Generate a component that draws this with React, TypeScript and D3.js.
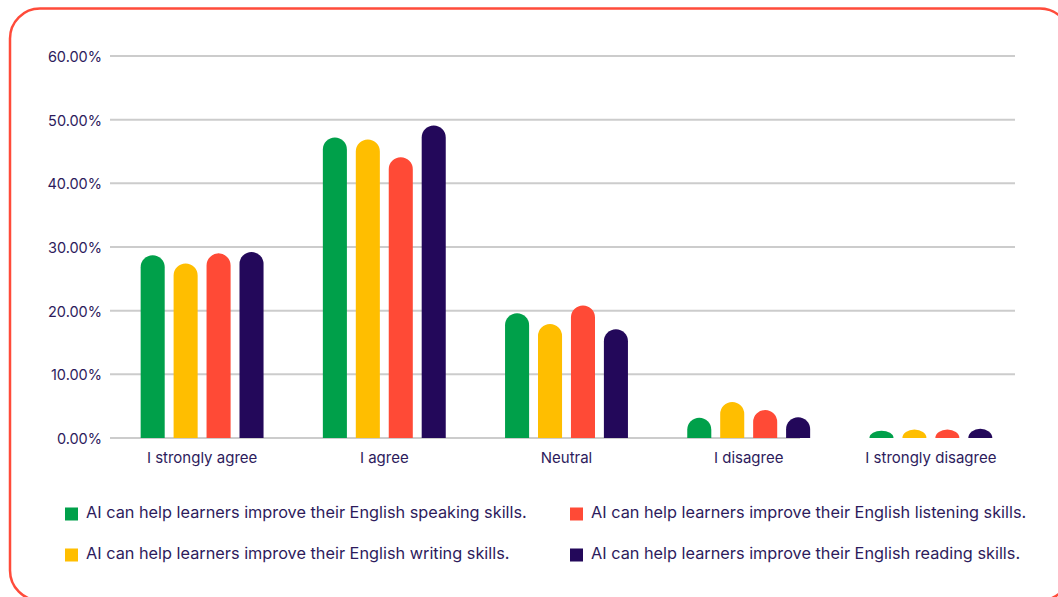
import * as d3 from "d3";

const categories = ["I strongly agree", "I agree", "Neutral", "I disagree", "I strongly disagree"];
const seriesNames = [
  "AI can help learners improve their English speaking skills.",
  "AI can help learners improve their English writing skills.",
  "AI can help learners improve their English listening skills.",
  "AI can help learners improve their English reading skills.",
];
const speaking = [28.7, 47.2, 19.6, 3.2, 1.15];
const writing = [27.4, 46.9, 17.9, 5.65, 1.35];
const listening = [29.0, 44.1, 20.8, 4.4, 1.35];
const reading = [29.2, 49.1, 17.1, 3.25, 1.45];
const yTicks = [0, 10, 20, 30, 40, 50, 60];

const colors = ["#00A04A", "#FFBE00", "#FF4A36", "#23085A"];
const textColor = "#2d1b5c";

const W = 1058;
const H = 597;
const margin = { top: 56, left: 111, right: 36, bottom: 159 };

const roundedBar = (x: number, y: number, w: number, h: number) => {
  const r = w / 2;
  const ry = Math.min(r, h);
  const base = y + h;
  return `M${x},${base} L${x},${y + ry} A${r},${ry} 0 0 1 ${x + w},${y + ry} L${x + w},${base} Z`;
};

export default function App() {
  const series = [speaking, writing, listening, reading];
  const x0 = d3
    .scaleBand<string>()
    .domain(categories)
    .range([margin.left, W - margin.right]);
  const x1 = d3
    .scaleBand<number>()
    .domain(d3.range(series.length))
    .range([0, x0.bandwidth()])
    .paddingInner(0.27)
    .paddingOuter(0.9);
  const y = d3
    .scaleLinear()
    .domain([0, 60])
    .range([438, margin.top]);

  const legendPos = [
    { x: 65, y: 514 },
    { x: 65, y: 555 },
    { x: 570, y: 514 },
    { x: 570, y: 555 },
  ];

  return (
    <svg width={W} height={H} style={{ position: "absolute", left: 0, top: 0 }}>
      <rect x={0} y={0} width={W} height={H} fill="#ffffff" />
      <rect
        x={10}
        y={8.5}
        width={1060}
        height={592}
        rx={30}
        ry={30}
        fill="none"
        stroke="#FF4B3A"
        strokeWidth={2.5}
      />
      <g fontFamily="Inter, 'Noto Sans', sans-serif" fill={textColor}>
        {yTicks.map((t) => (
          <g key={t}>
            {t > 0 && (
              <line x1={110} x2={1015} y1={y(t)} y2={y(t)} stroke="#cccccc" strokeWidth={2} />
            )}
            <text x={102} y={y(t) + 1} dy="0.35em" textAnchor="end" fontSize={14.5}>
              {t.toFixed(2) + "%"}
            </text>
          </g>
        ))}
        <line x1={110} x2={800} y1={y(0)} y2={y(0)} stroke="#cccccc" strokeWidth={2} />
        {categories.map((c, ci) => (
          <g key={c} transform={`translate(${x0(c)},0)`}>
            {series.map((s, si) => {
              const bx = x1(si)!;
              const by = y(s[ci]);
              return (
                <path
                  key={si}
                  d={roundedBar(bx, by, x1.bandwidth(), y(0) - by)}
                  fill={colors[si]}
                />
              );
            })}
            <text
              x={x0.bandwidth() / 2}
              y={463}
              textAnchor="middle"
              fontSize={15}
            >
              {c}
            </text>
          </g>
        ))}
        {seriesNames.map((n, i) => (
          <g key={n} transform={`translate(${legendPos[i].x},${legendPos[i].y})`}>
            <rect x={0} y={-6.5} width={13} height={13} fill={colors[i]} />
            <text x={21} y={-1.5} dy="0.35em" fontSize={16.3}>
              {n}
            </text>
          </g>
        ))}
      </g>
    </svg>
  );
}
